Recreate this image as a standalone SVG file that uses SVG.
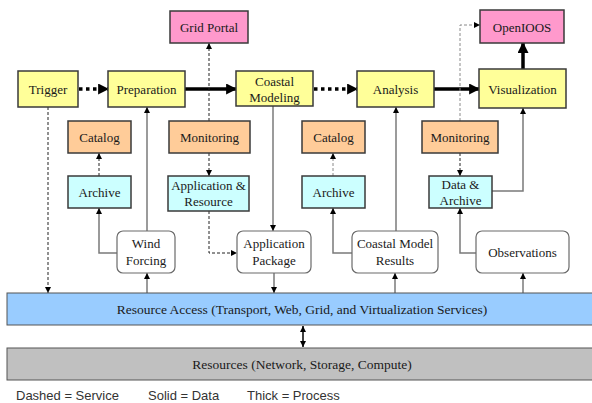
<svg xmlns="http://www.w3.org/2000/svg" width="592" height="403" viewBox="0 0 592 403">
<style>
.box{stroke:#3a3a3a;stroke-width:1.5}
.proc{fill:#ffff99}
.portal{fill:#ff99cc}
.svc{fill:#ffcc99}
.store{fill:#ccffff}
.src{fill:#ffffff;stroke:#6a6a6a;stroke-width:1.2}
.t{font-family:"Liberation Serif","Times New Roman",serif;font-size:13px;fill:#1a1a1a;text-anchor:middle}
.b{font-size:13.5px}
.leg{font-family:"Liberation Sans",Arial,sans-serif;font-size:13px;fill:#333}
.data{fill:none;stroke:#7a7a7a;stroke-width:1.5;marker-end:url(#sm)}
.dash{fill:none;stroke:#222;stroke-width:1;stroke-dasharray:3,2;marker-end:url(#sm)}
.gdash{fill:none;stroke:#8a8a8a;stroke-width:1;stroke-dasharray:3,2;marker-end:url(#sm)}
.thick{fill:none;stroke:#000;stroke-width:3.5;marker-end:url(#big)}
.dot{fill:none;stroke:#000;stroke-width:3.5;stroke-dasharray:3.5,3.5;marker-end:url(#big)}
</style>
<defs>
<marker id="sm" viewBox="0 0 10 10" refX="10" refY="5" markerWidth="6" markerHeight="6" markerUnits="userSpaceOnUse" orient="auto"><path d="M0,0L10,5L0,10z" fill="#000"/></marker>
<marker id="smr" viewBox="0 0 10 10" refX="10" refY="5" markerWidth="6" markerHeight="6" markerUnits="userSpaceOnUse" orient="auto-start-reverse"><path d="M0,0L10,5L0,10z" fill="#000"/></marker>
<marker id="big" viewBox="0 0 10 10" refX="9" refY="5" markerWidth="11" markerHeight="11" markerUnits="userSpaceOnUse" orient="auto"><path d="M0,0L10,5L0,10z" fill="#000"/></marker>
</defs>
<rect width="592" height="403" fill="#fff"/>
<g id="connectors">
<path class="dot" d="M79,89H108"/>
<path class="thick" d="M185,89H236"/>
<path class="dot" d="M314,89H357"/>
<path class="thick" d="M434,89H479"/>
<path class="thick" d="M523,69V43"/>
<path class="dash" d="M209,121V43"/>
<path class="gdash" d="M460,121V25H480"/>
<path class="dash" d="M48,107V293"/>
<path class="data" d="M147,231V107"/>
<path class="data" d="M117,253H99V208"/>
<path class="dash" d="M99,176V153"/>
<path class="dash" d="M209,153V176"/>
<path class="dash" d="M209,211V253H237"/>
<path class="data" d="M273,106V231"/>
<path class="data" d="M396,231V107"/>
<path class="data" d="M352,253H333V208"/>
<path class="gdash" d="M333,176V153"/>
<path class="dash" d="M460,153V176"/>
<path class="data" d="M492,191H523V108"/>
<path class="data" d="M476,253H460V208"/>
<path class="data" d="M147,293V273"/>
<path class="data" d="M274,273V293"/>
<path class="data" d="M395,293V273"/>
<path class="data" d="M523,293V273"/>
<path d="M303,326V347" fill="none" stroke="#000" stroke-width="1.5" marker-start="url(#smr)" marker-end="url(#sm)"/>
</g>
<g id="grid-portal"><rect class="box portal" x="170" y="11" width="78" height="32"/><text class="t" x="209" y="31.5">Grid Portal</text></g>
<g id="openioos"><rect class="box portal" x="480" y="10" width="84" height="33"/><text class="t" x="522" y="31.5">OpenIOOS</text></g>
<g id="trigger"><rect class="box proc" x="18" y="71" width="60" height="36"/><text class="t" x="48" y="93.5">Trigger</text></g>
<g id="preparation"><rect class="box proc" x="108" y="71" width="77" height="36"/><text class="t" x="146.5" y="93.5">Preparation</text></g>
<g id="coastal-modeling"><rect class="box proc" x="236" y="71" width="77" height="35"/><text class="t" x="274.5" y="86">Coastal</text><text class="t" x="274.5" y="101.5">Modeling</text></g>
<g id="analysis"><rect class="box proc" x="357" y="71" width="77" height="36"/><text class="t" x="395.5" y="93.5">Analysis</text></g>
<g id="visualization"><rect class="box proc" x="479" y="69" width="87" height="39"/><text class="t" x="522.5" y="93.5">Visualization</text></g>
<g id="catalog-1"><rect class="box svc" x="68" y="121" width="63" height="32"/><text class="t" x="99.5" y="141.5">Catalog</text></g>
<g id="monitoring-1"><rect class="box svc" x="169" y="121" width="81" height="32"/><text class="t" x="209.5" y="141.5">Monitoring</text></g>
<g id="catalog-2"><rect class="box svc" x="302" y="121" width="63" height="32"/><text class="t" x="333.5" y="141.5">Catalog</text></g>
<g id="monitoring-2"><rect class="box svc" x="422" y="121" width="76" height="32"/><text class="t" x="460" y="141.5">Monitoring</text></g>
<g id="archive-1"><rect class="box store" x="68" y="176" width="63" height="32"/><text class="t" x="99.5" y="196.5">Archive</text></g>
<g id="application-resource"><rect class="box store" x="168" y="176" width="81" height="35"/><text class="t" x="208.5" y="190">Application &amp;</text><text class="t" x="208.5" y="205.5">Resource</text></g>
<g id="archive-2"><rect class="box store" x="302" y="176" width="63" height="32"/><text class="t" x="333.5" y="196.5">Archive</text></g>
<g id="data-archive"><rect class="box store" x="429" y="176" width="63" height="32"/><text class="t" x="460.5" y="189">Data &amp;</text><text class="t" x="460.5" y="204.5">Archive</text></g>
<g id="wind-forcing"><rect class="src" x="117" y="231" width="58" height="42" rx="6"/><text class="t" x="146" y="248">Wind</text><text class="t" x="146" y="264.5">Forcing</text></g>
<g id="application-package"><rect class="src" x="237" y="231" width="74" height="42" rx="6"/><text class="t" x="274" y="248">Application</text><text class="t" x="274" y="264.5">Package</text></g>
<g id="coastal-model-results"><rect class="src" x="352" y="231" width="86" height="42" rx="6"/><text class="t" x="395" y="248">Coastal Model</text><text class="t" x="395" y="264.5">Results</text></g>
<g id="observations"><rect class="src" x="476" y="231" width="93" height="42" rx="6"/><text class="t" x="522.5" y="256.5">Observations</text></g>
<g id="resource-access"><rect x="7" y="293" width="590" height="32" fill="#99ccff" stroke="#555" stroke-width="1"/><text class="t b" x="302" y="314">Resource Access (Transport, Web, Grid, and Virtualization Services)</text></g>
<g id="resources"><rect x="7" y="348" width="590" height="32" fill="#c0c0c0" stroke="#555" stroke-width="1"/><text class="t b" x="302" y="369">Resources (Network, Storage, Compute)</text></g>
<g id="legend">
<text class="leg" x="16" y="400">Dashed = Service</text>
<text class="leg" x="148" y="400">Solid = Data</text>
<text class="leg" x="247" y="400">Thick = Process</text>
</g>
</svg>
